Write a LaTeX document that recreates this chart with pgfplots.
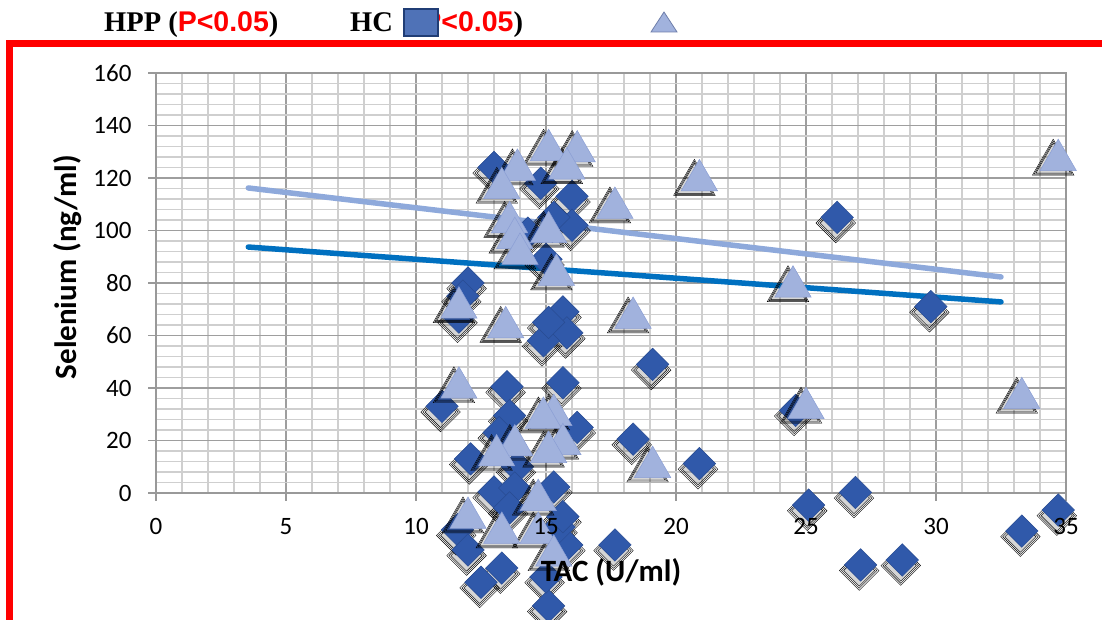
\documentclass[border=0pt]{standalone}
\usepackage{fontspec}
\setmainfont{Carlito}
\newfontfamily\lserif{Liberation Serif}
\newfontfamily\lsans{Liberation Sans}
\usepackage{pgfplots}
\usepackage{pgfplotstable}
\pgfplotsset{compat=1.18}
\definecolor{hpp}{HTML}{3059AA}
\definecolor{hppd}{HTML}{284C92}
\definecolor{hc}{HTML}{A1B2DD}
\definecolor{hcd}{HTML}{8A9ED4}
\definecolor{trhpp}{HTML}{0070C0}
\definecolor{trhc}{HTML}{8EA9DB}

\pgfplotsset{
  base/.style={
    at={(156pt,127pt)}, anchor=south west,
    scale only axis, width=910pt, height=420pt,
    xmin=0, xmax=35, ymin=0, ymax=160,
    xtick={0,5,...,35}, ytick={0,20,...,160},
    tick align=outside, major tick length=8pt, minor tick length=0pt,
    xtick pos=bottom, ytick pos=left,
    clip=false,
  }
}

\pgfplotstableread{
x y
13.0 124
14.8 118
16.0 113
16.0 102
15.3 105
14.3 99
15.0 89
26.2 105
12.0 80
11.8 75
11.65 67
15.65 69
15.8 61
14.9 58
15.1 65
13.5 40.5
15.65 42
11.0 33
13.6 29.5
16.2 25
13.2 23
12.1 13
13.9 10
15.3 2.3
13.0 0.4
13.8 1.9
13.6 -5.7
11.6 -14
12.0 -21.7
13.3 -28.6
12.5 -34
15.1 -43
15.8 -19.8
15.5 -13
15.65 -9
15.0 -32
17.65 -19.8
19.1 49
18.35 20.5
20.9 11.2
25.1 -4.6
26.9 0.2
27.1 -27.4
28.7 -25.5
29.8 71
24.6 31.5
33.3 -14.5
34.7 -6.5
}\hpptab

\pgfplotstableread{
x y
15.1 132.5
16.2 132
15.8 125.5
13.9 125
13.3 118
17.65 110.5
20.9 121
13.6 105
13.8 99
14.0 93
15.1 101.3
15.4 85
24.5 80.5
34.7 128.7
11.65 72.5
13.45 65
18.35 68.6
11.65 42
33.3 38
25.0 34.2
15.3 31.6
14.9 30.5
15.65 20.5
13.8 20
13.1 16.2
15.1 17.5
19.1 11.8
14.7 -0.8
12.0 -7.6
13.3 -13.3
14.7 -13.3
15.3 -22
}\hctab

\begin{document}
\begin{tikzpicture}
\path[use as bounding box] (0pt,0pt) rectangle (1102pt,620pt);
\begin{scope}
\clip (0pt,0pt) rectangle (1102pt,620pt);
\draw[red, line width=7pt] (9pt,-30pt) -- (9pt,576pt) -- (1140pt,576pt);
\end{scope}

\begin{axis}[
  base,
  minor x tick num=4, minor y tick num=4,
  grid=both,
  major grid style={draw=black!38, line width=1.5pt},
  minor grid style={draw=black!19, line width=1.4pt},
  axis line style={draw=black!40, line width=1.5pt},
  tick style={draw=black!40, line width=1.5pt},
  xticklabels={}, yticklabels={},
]
% soft shadows (diamonds)
\addplot[only marks, mark=square*, mark size=14pt,
  mark options={rotate=45, draw=none, fill=black, fill opacity=0.04, xshift=-5pt, yshift=-3pt}] table {\hpptab};
\addplot[only marks, mark=square*, mark size=12.5pt,
  mark options={rotate=45, draw=none, fill=black, fill opacity=0.06, xshift=-5pt, yshift=-3pt}] table {\hpptab};
\addplot[only marks, mark=square*, mark size=11pt,
  mark options={rotate=45, draw=none, fill=black, fill opacity=0.08, xshift=-5pt, yshift=-3pt}] table {\hpptab};
\addplot[only marks, mark=square*, mark size=11.5pt,
  mark options={rotate=45, draw=hppd, line width=0.5pt, fill=hpp}] table {\hpptab};
% soft shadows (triangles)
\addplot[only marks, mark=triangle*, mark size=24pt,
  mark options={draw=none, fill=black, fill opacity=0.04, xshift=-5pt, yshift=-8pt}] table {\hctab};
\addplot[only marks, mark=triangle*, mark size=22pt,
  mark options={draw=none, fill=black, fill opacity=0.06, xshift=-5pt, yshift=-8pt}] table {\hctab};
\addplot[only marks, mark=triangle*, mark size=20pt,
  mark options={draw=none, fill=black, fill opacity=0.08, xshift=-5pt, yshift=-8pt}] table {\hctab};
\addplot[only marks, mark=triangle*, mark size=21pt,
  mark options={draw=hcd, line width=0.5pt, fill=hc, yshift=-5pt}] table {\hctab};
\addplot[trhpp, line width=5.5pt, line cap=round] coordinates {(3.55,93.7) (32.5,72.8)};
\addplot[trhc, line width=5.5pt, line cap=round] coordinates {(3.55,116.2) (32.5,82.3)};
\end{axis}

% labels on top of the markers
\begin{axis}[
  base,
  axis line style={draw=none},
  tick style={draw=none},
  /pgf/number format/assume math mode=true,
  ticklabel style={font=\fontsize{25}{25}\selectfont},
  xticklabel style={yshift=-14pt},
  yticklabel style={xshift=-13pt},
  xlabel={TAC (U/ml)}, ylabel={Selenium (ng/ml)},
  label style={font=\fontsize{31}{31}\selectfont\bfseries},
  xlabel style={at={(axis description cs:0.5,-0.19)}, anchor=center},
  ylabel style={at={(axis description cs:-0.097,0.538)}, anchor=center, rotate=0},
]
\end{axis}

\node[anchor=west, inner sep=0pt, font=\fontsize{28.5}{28.5}\selectfont] at (104pt,595pt)
  {{\lserif\bfseries HPP (}{\lsans\bfseries\color{red}P<0.05}{\lserif\bfseries )}};
\node[anchor=west, inner sep=0pt, font=\fontsize{28.5}{28.5}\selectfont] at (350pt,595pt)
  {{\lserif\bfseries HC\hspace{20pt}(}{\lsans\bfseries\color{red}P<0.05}{\lserif\bfseries )}};
\draw[draw=hppd!80!black, line width=1.5pt, fill=hpp!85!white] (404pt,584pt) rectangle (438pt,611pt);
\draw[draw=hcd!80!black, line width=0.8pt, fill=hc] (651pt,588pt) -- (677pt,588pt) -- (664pt,608pt) -- cycle;
\end{tikzpicture}
\end{document}
